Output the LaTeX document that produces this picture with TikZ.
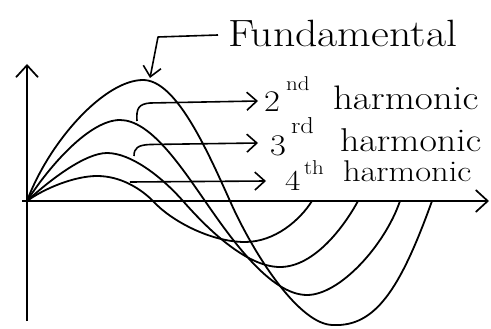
\documentclass[tikz,border=0pt]{standalone}
\usepackage{fontspec}
\newfontfamily\hand[FakeStretch=1.15]{Latin Modern Roman}
\usetikzlibrary{arrows.meta}
\begin{document}
\begin{tikzpicture}[x=1pt,y=-1pt,
  curve/.style={line width=1.8pt, line join=round, line cap=round},
  axis/.style={line width=1.7pt, -{Straight Barb[length=12pt,width=22pt,line width=1.7pt]}},
  pointer/.style={line width=1.6pt, line join=round, -{Straight Barb[length=10pt,width=18pt,line width=1.6pt]}},
  lbl/.style={anchor=base west, inner sep=0pt, outer sep=0pt}]
\useasboundingbox (0,0) rectangle (491,329);
% axes
\coordinate (O) at (27,201);
\coordinate (ybot) at (27,321);
\coordinate (ytop) at (27,64);
\coordinate (xleft) at (22,201);
\coordinate (xright) at (489,201);
\draw[axis] (ybot) -- (ytop);
\draw[axis] (xleft) -- (xright);
% fundamental
\draw[curve] (O) .. controls (50,140) and (105,80) .. (143,80)
  .. controls (175,80) and (205,145) .. (230,201)
  .. controls (255,257) and (300,325) .. (333,325)
  .. controls (375,327) and (400,290) .. (432,201);
% 2nd harmonic
\draw[curve] (O) .. controls (50,165) and (90,120) .. (120,120)
  .. controls (150,120) and (180,165) .. (205,201)
  .. controls (230,237) and (270,295) .. (307,295)
  .. controls (340,295) and (385,245) .. (400,201);
% 3rd harmonic
\draw[curve] (O) .. controls (50,180) and (85,153) .. (107,153)
  .. controls (130,153) and (160,175) .. (183,201)
  .. controls (205,226) and (245,267) .. (280,267)
  .. controls (315,267) and (345,225) .. (358,201);
% 4th harmonic
\draw[curve] (O) .. controls (45,188) and (75,176) .. (97,176)
  .. controls (120,176) and (140,188) .. (153,201)
  .. controls (170,220) and (210,242) .. (245,242)
  .. controls (275,242) and (300,220) .. (312,201);
% labels
\node[lbl, font=\hand\fontsize{38}{46}\selectfont] (fund) at (228,47) {Fundamental};
\node[lbl, font=\hand\fontsize{30}{34}\selectfont] (n2) at (264,112) {2};
\node[lbl, font=\hand\fontsize{20}{24}\selectfont] (s2) at (286,91) {nd};
\node[lbl, font=\hand\fontsize{34}{40}\selectfont] (h2) at (333,110) {harmonic};
\node[lbl, font=\hand\fontsize{30}{34}\selectfont] (n3) at (270,156) {3};
\node[lbl, font=\hand\fontsize{23}{27}\selectfont] (s3) at (291,134) {rd};
\node[lbl, font=\hand\fontsize{33}{38}\selectfont] (h3) at (340,152) {harmonic};
\node[lbl, font=\hand\fontsize{29}{34}\selectfont] (n4) at (285,191) {4};
\node[lbl, font=\hand\fontsize{20}{24}\selectfont] (s4) at (304,175) {th};
\node[lbl, font=\hand\fontsize{30}{35}\selectfont] (h4) at (343,182) {harmonic};
% pointers
\coordinate (fA) at (218,35);
\coordinate (fB) at (158,37);
\coordinate (fTip) at (150,78);
\draw[pointer] (fA) -- (fB) -- (fTip);
\coordinate (a2s) at (137,121);
\coordinate (a2t) at (258,101);
\draw[pointer] (a2s) .. controls (136,108) and (139,104) .. (150,103) -- (a2t);
\coordinate (a3s) at (134,156);
\coordinate (a3t) at (258,143);
\draw[pointer] (a3s) .. controls (134,148) and (138,145) .. (150,144.5) -- (a3t);
\coordinate (a4s) at (130,182);
\coordinate (a4t) at (266,181);
\draw[pointer] (a4s) -- (a4t);
\end{tikzpicture}
\end{document}
